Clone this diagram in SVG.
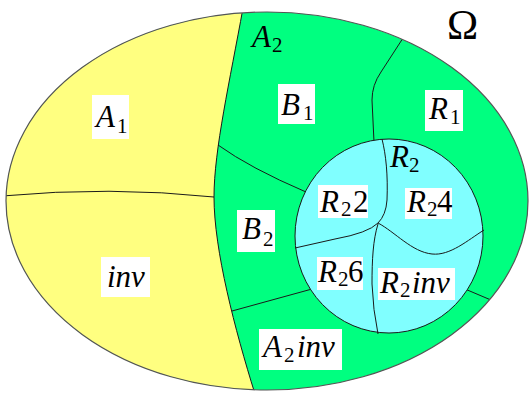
<svg xmlns="http://www.w3.org/2000/svg" width="531" height="394" viewBox="0 0 531 394">
<style>
.ln{fill:none;stroke:#1a1a1a;stroke-width:1}
.bx{fill:#ffffff}
.m{font-style:italic;font-size:31px;fill:#000}
.d{font-style:normal;font-size:31px;fill:#000}
.s{font-style:normal;font-size:21px;fill:#000}
.om{font-size:42px;fill:#000}
</style>
<defs>
<clipPath id="ell"><ellipse cx="267" cy="201" rx="261" ry="189"/></clipPath>
</defs>
<g id="omega-region">
<ellipse cx="267" cy="201" rx="261" ry="189" fill="#00ff80"/>
<path clip-path="url(#ell)" d="M243,8 C230,80 214,150 214,197 C214,250 235,330 255,394 L0,394 L0,0 Z" fill="#ffff80"/>
</g>
<g id="connectors" clip-path="url(#ell)">
<path class="ln" d="M243,8 C230,80 214,150 214,197 C214,250 235,330 255,394"/>
<path class="ln" d="M2,196 Q110,186 214,197"/>
<path class="ln" d="M218,145 Q250,168 306,192"/>
<path class="ln" d="M405,35 L381,72 Q372,85 372,100 L374,142"/>
<path class="ln" d="M232,311 L312,289"/>
<path class="ln" d="M465,289 L498,303"/>
</g>
<g id="R2-region">
<ellipse cx="389" cy="236" rx="94" ry="97" fill="#80ffff" stroke="#1a1a1a" stroke-width="1"/>
</g>
<g id="R2-connectors">
<path class="ln" d="M382,139 C386,155 388,175 387,200 Q386,215 378,223"/>
<path class="ln" d="M378,223 Q368,233 335,239 L295,248"/>
<path class="ln" d="M378,223 C395,232 412,252 432,254 C450,256 468,240 484,230"/>
<path class="ln" d="M378,224 C373,240 372,260 372,284 Q373,310 378,334"/>
</g>
<ellipse cx="267" cy="201" rx="261" ry="189" fill="none" stroke="#555" stroke-width="1.2"/>
<g id="labels" font-family="Liberation Serif, Times New Roman, serif">
<g id="label-omega"><text class="om" x="447" y="39">Ω</text></g>
<g id="label-A1"><rect class="bx" x="92" y="95" width="37" height="44"/><text class="m" x="96" y="127">A</text><text class="s" x="117" y="133">1</text></g>
<g id="label-A2"><text class="m" x="252" y="47">A</text><text class="s" x="272" y="52">2</text></g>
<g id="label-B1"><rect class="bx" x="278" y="84" width="37" height="40"/><text class="m" x="281" y="115">B</text><text class="s" x="303" y="120">1</text></g>
<g id="label-R1"><rect class="bx" x="425" y="90" width="38" height="41"/><text class="m" x="429" y="119">R</text><text class="s" x="450" y="124">1</text></g>
<g id="label-R2"><text class="m" x="390" y="167">R</text><text class="s" x="409" y="172">2</text></g>
<g id="label-R22"><rect class="bx" x="318" y="185" width="50" height="33"/><text class="m" x="320" y="212">R</text><text class="s" x="341" y="216">2</text><text class="d" x="353" y="212">2</text></g>
<g id="label-R24"><rect class="bx" x="405" y="188" width="47" height="31"/><text class="m" x="407" y="212">R</text><text class="s" x="427" y="216">2</text><text class="d" x="437" y="212">4</text></g>
<g id="label-B2"><rect class="bx" x="237" y="210" width="38" height="42"/><text class="m" x="242" y="239">B</text><text class="s" x="263" y="246">2</text></g>
<g id="label-R26"><rect class="bx" x="317" y="257" width="46" height="33"/><text class="m" x="318" y="282">R</text><text class="s" x="338" y="286">2</text><text class="d" x="348" y="282">6</text></g>
<g id="label-R2inv"><rect class="bx" x="378" y="268" width="77" height="32"/><text class="m" x="380" y="293">R</text><text class="s" x="400" y="297">2</text><text class="m" x="412" y="293">inv</text></g>
<g id="label-inv"><rect class="bx" x="101" y="257" width="49" height="40"/><text class="m" x="107" y="287">inv</text></g>
<g id="label-A2inv"><rect class="bx" x="259" y="329" width="83" height="41"/><text class="m" x="263" y="357">A</text><text class="s" x="284" y="362">2</text><text class="m" x="297" y="357">inv</text></g>
</g>
</svg>
